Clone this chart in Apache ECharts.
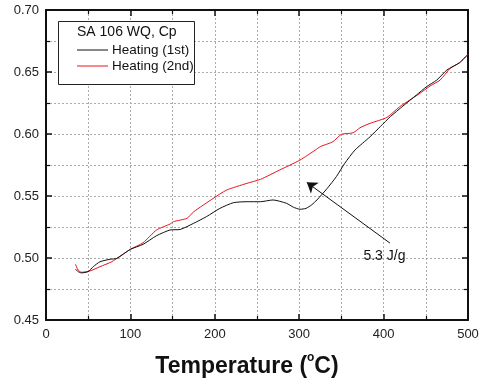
<!DOCTYPE html>
<html>
<head>
<meta charset="utf-8">
<script src="https://cdn.jsdelivr.net/npm/echarts@6/dist/echarts.min.js"></script>
<style>html,body{margin:0;padding:0;background:#fff;}#c{width:481px;height:386px;}</style>
</head>
<body>
<div id="c"></div>
<script>
const titleText = 'SA 106 WQ, Cp';
const seriesNames = ['Heating (1st)', 'Heating (2nd)'];
const xTicks = [0, 100, 200, 300, 400, 500];
const yTicks = [0.45, 0.50, 0.55, 0.60, 0.65, 0.70];

const tempFirst = [35, 38, 42, 50, 56, 64, 76, 84, 100, 115, 131, 147, 159, 175, 190, 206, 222, 238, 254, 269, 285, 293, 301, 308, 315, 321, 333, 344, 354, 366, 384, 396, 408, 423, 439, 451, 463, 475, 490, 500];
const cpFirst = [0.491, 0.489, 0.488, 0.489, 0.493, 0.497, 0.499, 0.4997, 0.507, 0.511, 0.518, 0.5226, 0.523, 0.528, 0.5333, 0.540, 0.5446, 0.5454, 0.5454, 0.5468, 0.5441, 0.541, 0.5393, 0.540, 0.543, 0.5468, 0.556, 0.5656, 0.5764, 0.587, 0.5978, 0.6059, 0.614, 0.6226, 0.6315, 0.6382, 0.6435, 0.6516, 0.6575, 0.6642];

const tempSecond = [35, 38, 42, 52, 64, 78, 88, 100, 115, 131, 147, 151, 167, 175, 198, 214, 238, 254, 277, 301, 319, 325, 340, 350, 364, 372, 384, 404, 419, 431, 443, 455, 467, 479, 490, 500];
const cpSecond = [0.4949, 0.4903, 0.4885, 0.4895, 0.493, 0.497, 0.5016, 0.507, 0.5123, 0.5226, 0.5274, 0.5293, 0.532, 0.5373, 0.548, 0.5548, 0.5602, 0.5634, 0.571, 0.579, 0.587, 0.5898, 0.5938, 0.5997, 0.601, 0.605, 0.6086, 0.6134, 0.622, 0.6274, 0.6328, 0.6387, 0.6435, 0.653, 0.6575, 0.6642];

const annotationText = '5.3 J/g';
const annotationLabelAt = [401, 0.5016];
const arrowFrom = [407.6, 0.512];
const arrowTo = [309, 0.561];

const FONT = '"Liberation Sans", Arial, sans-serif';
const chart = echarts.init(document.getElementById('c'), null, {renderer: 'canvas'});

const gridLine = {show: true, lineStyle: {color: '#aaa', type: [2, 2], width: 1}};
function xAx(pos, showLabel) {
  return {
    type: 'value', position: pos, min: xTicks[0], max: xTicks[xTicks.length - 1], interval: 100,
    axisLine: {show: true, onZero: false, lineStyle: {color: '#111', width: 2}},
    axisTick: {show: true, inside: true, length: 6, lineStyle: {color: '#111', width: 1.5}},
    minorTick: {show: true, splitNumber: 2, length: 4, lineStyle: {color: '#111', width: 1.2}},
    axisLabel: {show: showLabel, color: '#222', fontFamily: FONT, fontSize: 13, margin: 8},
    splitLine: pos === 'bottom' ? gridLine : {show: false},
    minorSplitLine: pos === 'bottom' ? gridLine : {show: false}
  };
}
function yAx(pos, showLabel) {
  return {
    type: 'value', position: pos, min: yTicks[0], max: yTicks[yTicks.length - 1], interval: 0.05,
    axisLine: {show: true, onZero: false, lineStyle: {color: '#111', width: 2}},
    axisTick: {show: true, inside: true, length: 6, lineStyle: {color: '#111', width: 1.5}},
    minorTick: {show: true, splitNumber: 2, length: 4, lineStyle: {color: '#111', width: 1.2}},
    axisLabel: {show: showLabel, color: '#222', fontFamily: FONT, fontSize: 13, margin: 7,
      formatter: v => v.toFixed(2)},
    splitLine: pos === 'left' ? gridLine : {show: false},
    minorSplitLine: pos === 'left' ? gridLine : {show: false}
  };
}

const xBottom = xAx('bottom', true);
xBottom.name = '{a|Temperature (}{s|o}{a|C)}';
xBottom.nameLocation = 'middle';
xBottom.nameGap = 30;
xBottom.nameTextStyle = {
  padding: [0, 20, 0, 0],
  rich: {
    a: {fontFamily: FONT, fontWeight: 'bold', fontSize: 23, color: '#111', lineHeight: 28, verticalAlign: 'bottom'},
    s: {fontFamily: FONT, fontWeight: 'bold', fontSize: 12, color: '#111', lineHeight: 28, verticalAlign: 'top', padding: [2, 0, 0, 0]}
  }
};

const option = {
  backgroundColor: '#fff',
  animation: false,
  grid: {left: 46, right: 13, top: 10, bottom: 66, containLabel: false, outerBoundsMode: 'none'},
  xAxis: [xBottom, xAx('top', false)],
  yAxis: [yAx('left', true), yAx('right', false)],
  legend: {
    z: 20,
    orient: 'vertical', left: 72, top: 38, itemGap: 2, itemWidth: 31, itemHeight: 12,
    icon: 'path://M0,5 L31,5 L31,6 L0,6 Z',
    textStyle: {fontFamily: FONT, fontSize: 13.5, color: '#111', padding: [0, 0, 0, -1]},
    data: seriesNames
  },
  graphic: [
    {type: 'rect', left: 58, top: 21, shape: {width: 136, height: 63}, z: 5,
      style: {fill: '#fff', stroke: '#222', lineWidth: 1}},
    {type: 'text', left: 77, top: 25, z: 6,
      style: {text: titleText, font: '14px ' + FONT, fill: '#111'}}
  ],
  series: [
    {
      name: seriesNames[0], type: 'line', showSymbol: false, symbol: 'none', smooth: 0.2,
      data: tempFirst.map((t, i) => [t, cpFirst[i]]),
      lineStyle: {color: '#111', width: 1},
      itemStyle: {color: '#111'},
      z: 3,
      markLine: {
        silent: true, symbol: ['none', 'arrow'], symbolSize: 10,
        lineStyle: {color: '#111', width: 1, type: 'solid'},
        itemStyle: {color: '#111'},
        label: {show: false},
        data: [[{coord: arrowFrom}, {coord: arrowTo}]]
      },
      markPoint: {
        silent: true, symbol: 'circle', symbolSize: 0,
        label: {show: true, position: 'inside', color: '#111', fontFamily: FONT, fontSize: 14,
          formatter: annotationText},
        data: [{coord: annotationLabelAt}]
      }
    },
    {
      name: seriesNames[1], type: 'line', showSymbol: false, symbol: 'none', smooth: 0.2,
      data: tempSecond.map((t, i) => [t, cpSecond[i]]),
      lineStyle: {color: '#e8141b', width: 1},
      itemStyle: {color: '#e8141b'},
      z: 2
    }
  ]
};
chart.setOption(option);
</script>
</body>
</html>
